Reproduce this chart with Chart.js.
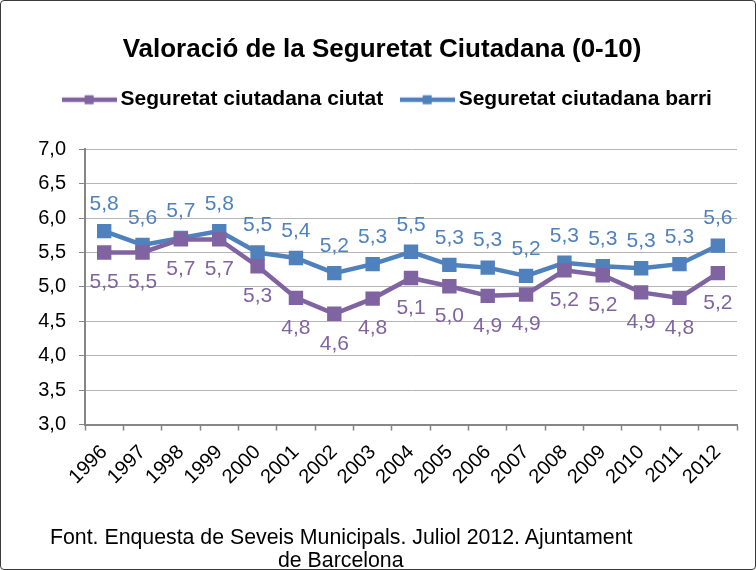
<!DOCTYPE html>
<html lang="ca">
<head>
    <meta charset="UTF-8">
    <title>Valoració de la Seguretat Ciutadana (0-10)</title>
    <script src="https://cdn.jsdelivr.net/npm/chart.js"></script>
    <style>
        body { margin: 0; background: #fff; }
        #wrap { position: relative; width: 756px; height: 570px; box-sizing: border-box; border: 1px solid #3a3a3a; border-radius: 4px; overflow: hidden; }
        #myChart { position: absolute; left: 0; top: 0; }
        .font { position: absolute; font-family: "Liberation Sans", Arial, sans-serif; font-size: 21.3px; line-height: 24px; color: #000; white-space: nowrap; }
    </style>
</head>
<body>
<div id="wrap">
    <canvas id="myChart" width="756" height="570"></canvas>
    <div class="font" style="left:49px; top:524px;">Font. Enquesta de Seveis Municipals. Juliol 2012. Ajuntament</div>
    <div class="font" style="left:277px; top:547px;">de Barcelona</div>
</div>
<script>
    const years = ['1996', '1997', '1998', '1999', '2000', '2001', '2002', '2003', '2004',
        '2005', '2006', '2007', '2008', '2009', '2010', '2011', '2012'];
    const ciutat = [5.5, 5.5, 5.69, 5.69, 5.3, 4.84, 4.61, 4.83, 5.13,
        5.01, 4.87, 4.89, 5.24, 5.17, 4.92, 4.84, 5.2];
    const barri = [5.81, 5.61, 5.71, 5.81, 5.5, 5.42, 5.2, 5.33, 5.51,
        5.32, 5.28, 5.16, 5.35, 5.3, 5.27, 5.33, 5.6];
    const yTicks = [3, 3.5, 4, 4.5, 5, 5.5, 6, 6.5, 7];

    const purple = '#8064A2';
    const blue = '#4F81BD';
    const FONT = '"Liberation Sans", Arial, sans-serif';

    function legendMark(color) {
        const c = document.createElement('canvas');
        c.width = 55;
        c.height = 12;
        const g = c.getContext('2d');
        g.strokeStyle = color;
        g.lineWidth = 4.5;
        g.beginPath();
        g.moveTo(0, 6);
        g.lineTo(55, 6);
        g.stroke();
        g.fillStyle = color;
        g.fillRect(23, 1.5, 9, 9);
        return c;
    }

    // etiquetes de valor (no hi ha plugin datalabels)
    const valueLabels = {
        id: 'valueLabels',
        afterDatasetsDraw(chart) {
            const ctx = chart.ctx;
            ctx.save();
            ctx.font = '21px ' + FONT;
            ctx.textAlign = 'center';
            ctx.textBaseline = 'middle';
            chart.data.datasets.forEach((ds, i) => {
                const meta = chart.getDatasetMeta(i);
                ctx.fillStyle = ds.borderColor;
                meta.data.forEach((pt, j) => {
                    const txt = ds.data[j].toFixed(1).replace('.', ',');
                    const dy = ds.labelPos === 'above' ? -27 : 30;
                    ctx.fillText(txt, pt.x, pt.y + dy);
                });
            });
            ctx.restore();
        }
    };

    // espai extra sota la llegenda, i llegenda una mica a la dreta
    const legendGap = {
        id: 'legendGap',
        beforeInit(chart) {
            const legend = chart.legend;
            const fit = legend.fit;
            legend.fit = function () {
                fit.call(legend);
                this.height += 29;
            };
            const draw = legend.draw;
            legend.draw = function () {
                chart.ctx.save();
                chart.ctx.translate(8, 0);
                draw.call(legend);
                chart.ctx.restore();
            };
        }
    };

    const ctx = document.getElementById('myChart').getContext('2d');
    new Chart(ctx, {
        type: 'line',
        data: {
            labels: years,
            datasets: [
                {
                    label: 'Seguretat ciutadana ciutat',
                    data: ciutat,
                    borderColor: purple,
                    backgroundColor: purple,
                    borderWidth: 4.5,
                    pointStyle: 'rect',
                    pointRadius: 7,
                    pointHoverRadius: 7,
                    tension: 0,
                    labelPos: 'below'
                },
                {
                    label: 'Seguretat ciutadana barri',
                    data: barri,
                    borderColor: blue,
                    backgroundColor: blue,
                    borderWidth: 4.5,
                    pointStyle: 'rect',
                    pointRadius: 7,
                    pointHoverRadius: 7,
                    tension: 0,
                    labelPos: 'above'
                }
            ]
        },
        options: {
            responsive: false,
            animation: false,
            layout: { padding: { left: 26, right: 20, top: 33, bottom: 72 } },
            plugins: {
                title: {
                    display: true,
                    text: 'Valoració de la Seguretat Ciutadana (0-10)',
                    color: '#000',
                    font: { family: FONT, size: 26, weight: 'bold' },
                    padding: { top: 0, bottom: 1 }
                },
                legend: {
                    labels: {
                        color: '#000',
                        font: { family: FONT, size: 21, weight: 'bold' },
                        usePointStyle: true,
                        pointStyleWidth: 42,
                        padding: 23,
                        generateLabels(chart) {
                            return chart.data.datasets.map((ds, i) => ({
                                text: ds.label,
                                datasetIndex: i,
                                pointStyle: legendMark(ds.borderColor),
                                fontColor: '#000',
                                lineWidth: 0,
                                strokeStyle: 'transparent',
                                fillStyle: ds.borderColor
                            }));
                        }
                    }
                },
                tooltip: { enabled: false }
            },
            scales: {
                x: {
                    offset: true,
                    grid: {
                        display: true,
                        offset: true,
                        drawOnChartArea: false,
                        drawTicks: true,
                        tickLength: 6,
                        tickColor: '#868686',
                        tickWidth: 1.5
                    },
                    border: { display: true, color: '#868686', width: 2 },
                    ticks: {
                        color: '#000',
                        font: { family: FONT, size: 20 },
                        minRotation: 45,
                        maxRotation: 45,
                        autoSkip: false,
                        padding: 10
                    }
                },
                y: {
                    min: 3,
                    max: 7,
                    afterBuildTicks(axis) {
                        axis.ticks = yTicks.map(v => ({ value: v }));
                    },
                    afterFit(axis) {
                        axis.width = 58;
                    },
                    grid: {
                        color: '#b5b5b5',
                        lineWidth: 1,
                        borderDash: [2, 2],
                        tickBorderDash: [],
                        tickColor: '#868686',
                        tickLength: 6
                    },
                    border: { display: true, color: '#868686', width: 2 },
                    ticks: {
                        color: '#000',
                        font: { family: FONT, size: 20 },
                        padding: 13,
                        callback: v => Number(v).toFixed(1).replace('.', ',')
                    }
                }
            }
        },
        plugins: [valueLabels, legendGap]
    });
</script>
</body>
</html>
